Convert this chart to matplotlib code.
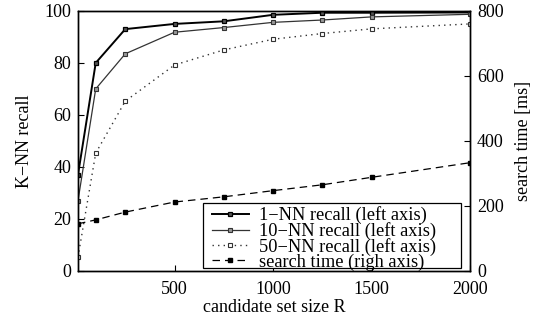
import matplotlib
matplotlib.use("Agg")
import matplotlib.pyplot as plt
from matplotlib.patches import Rectangle

plt.rcParams['font.family'] = ['Liberation Serif', 'DejaVu Serif']

R = [10, 100, 250, 500, 750, 1000, 1250, 1500, 2000]
recall_1nn = [37, 80, 93, 95, 96, 98.5, 99.3, 99.3, 99.4]
recall_10nn = [27, 70, 83.5, 91.8, 93.6, 95.6, 96.5, 97.7, 98.7]
recall_50nn = [5.3, 45.3, 65.3, 79.2, 85, 89.1, 91.3, 93.1, 95]
search_time = [145, 157, 181, 212, 228, 247, 265, 288, 333]

labels = ['1\u2212NN recall (left axis)', '10\u2212NN recall (left axis)',
          '50\u2212NN recall (left axis)', 'search time (righ axis)']

fig = plt.figure(figsize=(5.36, 3.21), dpi=100)
ax = fig.add_axes([0.1455, 0.156, 0.7315, 0.81])
ax2 = ax.twinx()

l1, = ax.plot(R, recall_1nn, '-', color='black', lw=1.4, marker='s', ms=3.2,
              mfc='#555555', mec='black', mew=0.9)
l2, = ax.plot(R, recall_10nn, '-', color='#333333', lw=0.9, marker='s', ms=3.0,
              mfc='#999999', mec='#333333', mew=0.8)
l3, = ax.plot(R, recall_50nn, color='#333333', lw=1.0, marker='s', ms=3.0,
              mfc='white', mec='#333333', mew=0.8, dashes=(1, 3))
l4, = ax2.plot(R, search_time, color='black', lw=0.9, marker='s', ms=3.5,
               mfc='black', mec='black', dashes=(6, 4))

ax.set_xlim(10, 2000)
ax.set_ylim(0, 100)
ax2.set_ylim(0, 800)
ax.set_xticks([500, 1000, 1500, 2000])
ax.set_yticks([0, 20, 40, 60, 80, 100])
ax2.set_yticks([0, 200, 400, 600, 800])

fs = 13
ax.tick_params(direction='in', labelsize=fs, length=4, width=0.8, pad=5)
ax2.tick_params(direction='in', labelsize=fs, length=4, width=0.8, pad=5)
ax.tick_params(axis='x', pad=7)
for a in (ax, ax2):
    for s in a.spines.values():
        s.set_linewidth(1.0)

ax.set_xlabel('candidate set size R', fontsize=fs, labelpad=1)
ax.set_ylabel('K\u2212NN recall', fontsize=fs, labelpad=8)
ax2.set_ylabel('search time [ms]', fontsize=fs, labelpad=8)

# legend box (gnuplot style, extra room on the right)
box = Rectangle((0.3194, 0.0115), 0.977 - 0.3194, 0.25, transform=ax2.transAxes,
                facecolor='white', edgecolor='black', lw=0.9, zorder=5)
ax2.add_patch(box)

leg = ax2.legend([l1, l2, l3, l4], labels, loc='lower left',
                 bbox_to_anchor=(0.342, 0.0), fontsize=13.2,
                 frameon=False, borderpad=0.0, labelspacing=-0.12,
                 handlelength=2.0, handletextpad=0.55, borderaxespad=0.0)
leg.set_zorder(6)

fig.savefig('out.png', dpi=100)
